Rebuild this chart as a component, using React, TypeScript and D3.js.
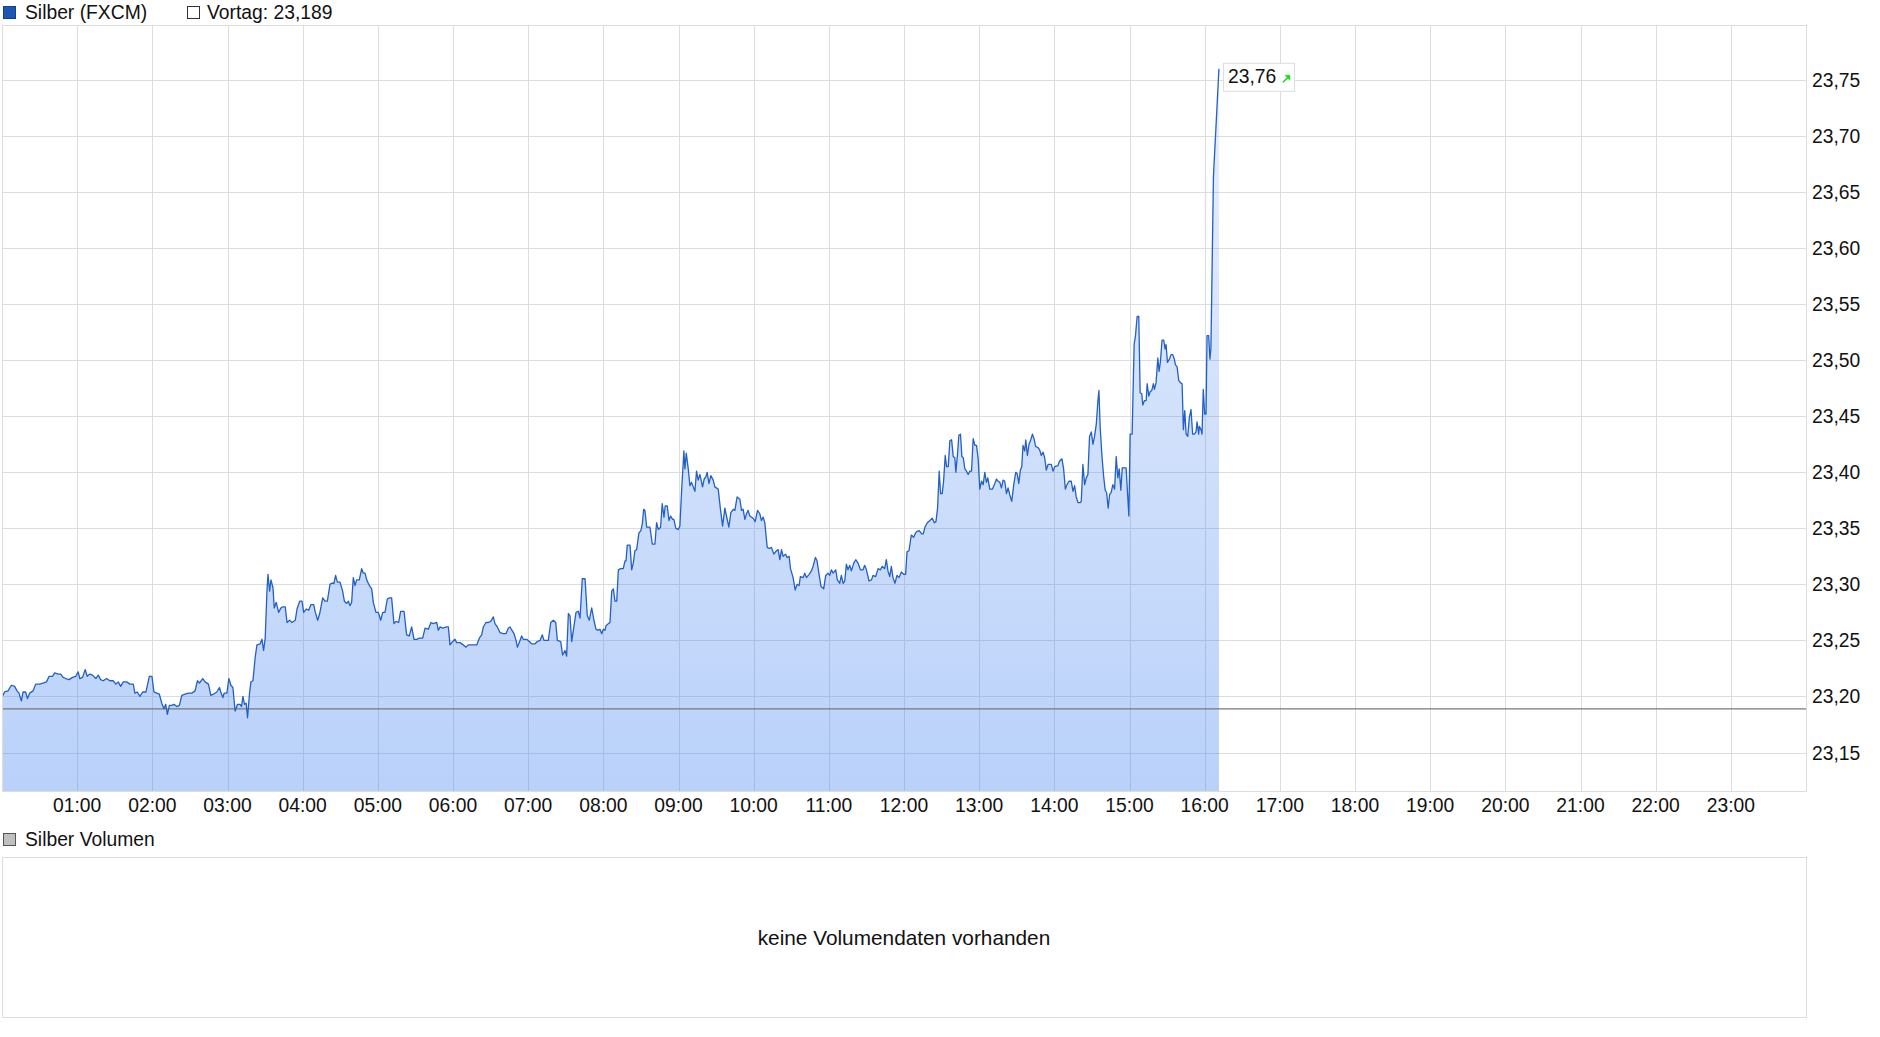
import React from "react";
import * as d3 from "d3";

// ---- data (minutes since midnight, price) ----
const minutes: number[] = [
  0.3, 2.1, 4.8, 7.5, 10.1, 12.0, 13.6, 15.5, 16.8, 18.9, 20.3, 22.1, 24.8, 26.9, 30.1, 32.8, 35.5, 37.6, 40.3, 42.1,
  44.8, 46.9, 48.8, 50.9, 53.6, 56.3, 58.9, 60.8, 62.1, 64.3, 66.4, 68.0, 70.1, 72.3, 74.9, 76.8, 78.7, 80.8, 83.5, 86.1,
  88.8, 90.9, 92.8, 94.7, 96.8, 99.5, 102.1, 104.8, 106.1, 108.0, 110.1, 112.3, 114.9, 117.6, 119.7, 121.3, 123.5, 125.6, 127.5, 129.3,
  130.7, 132.0, 133.6, 135.5, 137.3, 139.5, 141.6, 143.5, 146.1, 148.8, 151.5, 154.1, 156.0, 157.6, 160.3, 162.1, 164.8, 166.7, 168.8, 171.5,
  173.6, 174.9, 176.3, 177.3, 179.5, 181.1, 182.7, 184.3, 186.1, 188.0, 190.1, 191.2, 192.3, 193.6, 194.9, 196.0, 197.6, 198.7, 200.3, 202.1,
  203.5, 206.1, 207.5, 208.8, 210.1, 211.5, 212.3, 213.6, 214.7, 216.3, 217.3, 218.9, 220.8, 222.7, 224.3, 226.1, 227.5, 229.6, 231.5, 234.1,
  235.5, 237.6, 239.5, 240.8, 242.9, 244.8, 246.7, 248.8, 250.1, 252.0, 253.6,
  256.0, 257.8, 259.7, 261.8, 263.1, 265.0, 266.3, 267.7, 269.8, 271.9, 273.3, 275.1, 276.5, 277.8, 279.1, 280.4, 281.8, 283.1, 285.2, 287.1,
  288.4, 289.8, 291.1, 293.2, 295.1, 296.4, 298.5, 300.4, 302.3, 303.9, 305.7, 307.6, 309.2, 311.0, 312.9, 314.5, 316.6, 318.2, 320.9, 323.0,
  325.1, 327.0, 328.9, 331.0, 333.1, 335.8, 337.7, 340.3, 342.4, 344.3, 347.0, 348.3, 349.6, 351.8, 354.9, 356.3, 357.6, 359.7, 361.6, 362.9,
  365.6, 368.2, 370.4, 372.2, 374.1, 376.2, 378.9, 381.0, 382.9, 384.2, 386.3, 388.2, 390.1, 392.2, 393.5, 395.4, 397.5, 400.2, 402.3, 404.2,
  405.5, 407.1, 408.7, 410.3, 411.4, 413.5, 414.8, 416.1, 418.8, 420.9, 422.8, 425.5, 427.3, 429.5, 431.3, 432.6, 436.1, 438.0, 440.1, 442.0,
  443.3, 446.0, 447.5, 449.4, 450.7, 452.1, 453.4, 454.7, 456.6, 458.2, 460.0, 461.4, 463.2, 465.4, 467.2, 468.8, 470.7, 472.5, 474.1, 476.0,
  477.3, 478.7, 480.0, 481.3, 482.1, 484.0, 485.3, 486.7, 488.0, 489.3, 490.7, 492.0,
  493.8, 495.9, 497.3, 498.1, 499.1, 501.3, 502.6, 503.9, 505.2, 506.6, 508.4, 510.0, 511.1, 512.2, 513.2, 514.6, 517.2, 519.1, 521.2, 522.5,
  523.9, 525.7, 527.0, 528.4, 529.4, 531.0, 532.4, 533.7, 535.3, 536.3, 537.9, 539.8, 541.1, 542.5, 544.3, 545.1, 546.2, 547.8, 549.1, 550.4,
  551.8, 553.1, 554.4, 555.7, 557.1, 559.2, 560.5, 561.9, 562.9, 564.3, 565.8, 567.7, 569.0, 571.7, 573.6, 575.2, 577.0, 578.3, 580.2, 581.8,
  583.7, 585.0, 586.8, 589.0, 590.3, 591.6, 593.0, 594.3, 595.6, 596.9, 599.6, 601.2, 603.1, 604.9, 606.2, 607.6, 608.9, 610.8, 612.4, 614.2,
  616.1, 618.2, 619.5, 620.9, 622.2, 623.5, 625.4, 626.7, 628.3, 629.4, 631.5, 633.1, 634.7, 636.3, 637.3, 639.5, 640.8, 642.1, 644.3, 646.1,
  647.4, 649.3, 650.6, 652.2, 653.8, 655.9, 657.5, 659.4, 660.7, 662.1, 663.4, 665.5, 666.8, 668.7, 670.0, 671.4, 672.7, 674.0, 675.3, 676.7,
  678.0, 679.9, 681.5, 683.3, 685.2, 687.3, 688.6, 690.0, 692.1, 694.0, 695.3, 697.4, 699.3, 701.1, 702.7, 704.6, 705.9, 707.2, 708.6, 709.9,
  711.2, 712.8, 714.4, 716.0, 717.9, 719.7, 721.3, 722.4, 724.0, 725.8, 727.7, 729.3,
  730.1, 732.2, 734.1, 735.4, 736.7, 738.6, 740.7, 742.6, 744.2, 745.5, 746.8, 748.1, 749.2, 750.5, 751.6, 752.9, 754.0, 755.3, 756.6, 758.0,
  759.3, 760.6, 761.4, 762.7, 763.8, 765.1, 766.2, 767.3, 768.6, 769.9, 771.2, 772.6, 773.9, 775.2, 776.6, 777.9, 779.2, 780.5, 781.9, 783.2,
  784.5, 785.8, 786.9, 788.5, 790.6, 792.5, 793.8, 795.1, 796.5, 797.8, 799.1, 800.4, 801.8, 803.1, 804.4, 806.0, 807.6, 809.2, 810.3, 811.6,
  812.9, 814.0, 815.0, 816.4, 817.2, 818.5, 819.8, 821.2, 822.5, 823.8, 825.1, 827.0, 828.3, 829.6, 831.0, 832.3, 833.6, 835.0, 837.6, 838.9,
  840.3, 842.9, 844.2, 846.1, 847.4, 848.8, 850.1, 851.7, 853.5, 854.9, 856.2, 857.5, 858.9, 860.7, 861.5, 862.8, 864.2, 865.5, 866.8, 868.1,
  869.5, 870.8, 872.1, 873.5, 874.8, 875.6, 876.6, 878.0, 879.3, 880.6, 881.7, 883.0, 884.1, 885.4, 886.7, 888.1, 889.4, 890.7, 891.8, 893.1,
  894.2, 897.3, 898.4, 899.5, 900.5, 902.1, 903.7, 904.8, 906.1, 907.4, 908.5, 909.8, 910.6, 912.0, 913.3, 914.1, 915.4, 916.5, 917.8, 919.1,
  919.9, 921.2, 922.6, 923.6, 924.7, 926.0, 927.3, 928.4, 929.2, 930.3, 931.9, 933.2, 934.5, 935.8, 936.6, 938.0, 939.3, 940.6, 942.0, 943.0,
  944.1, 945.2, 946.5, 947.8, 949.1, 950.4, 951.8, 953.1, 953.9, 955.2, 955.8, 957.1, 957.9, 958.9, 960.0, 961.1, 961.9, 963.2, 964.2, 965.0,
  967.0, 971.4,
];

const prices: number[] = [
  23.200, 23.204, 23.205, 23.210, 23.209, 23.205, 23.203, 23.196, 23.204, 23.204, 23.198, 23.203, 23.205, 23.211, 23.211, 23.212, 23.213, 23.218, 23.218, 23.221,
  23.220, 23.220, 23.217, 23.216, 23.215, 23.217, 23.218, 23.222, 23.216, 23.217, 23.224, 23.218, 23.220, 23.219, 23.216, 23.219, 23.215, 23.214, 23.216, 23.214,
  23.214, 23.211, 23.213, 23.209, 23.213, 23.213, 23.211, 23.211, 23.203, 23.204, 23.200, 23.204, 23.204, 23.218, 23.218, 23.204, 23.203, 23.202, 23.194, 23.189,
  23.193, 23.184, 23.192, 23.192, 23.193, 23.191, 23.192, 23.201, 23.202, 23.203, 23.203, 23.205, 23.214, 23.212, 23.216, 23.213, 23.211, 23.201, 23.202, 23.204,
  23.208, 23.203, 23.199, 23.203, 23.203, 23.216, 23.210, 23.208, 23.187, 23.193, 23.193, 23.191, 23.200, 23.193, 23.194, 23.181, 23.203, 23.213, 23.214, 23.235,
  23.246, 23.247, 23.251, 23.241, 23.252, 23.294, 23.309, 23.294, 23.304, 23.297, 23.279, 23.284, 23.275, 23.279, 23.280, 23.280, 23.266, 23.268, 23.266, 23.268,
  23.278, 23.285, 23.285, 23.275, 23.278, 23.277, 23.282, 23.282, 23.275, 23.268, 23.274,
  23.288, 23.285, 23.285, 23.300, 23.301, 23.301, 23.308, 23.302, 23.302, 23.294, 23.285, 23.283, 23.285, 23.281, 23.284, 23.306, 23.299, 23.304, 23.304, 23.314,
  23.310, 23.310, 23.304, 23.299, 23.296, 23.284, 23.275, 23.275, 23.268, 23.275, 23.275, 23.287, 23.288, 23.288, 23.265, 23.267, 23.266, 23.276, 23.276, 23.255,
  23.254, 23.262, 23.251, 23.251, 23.252, 23.252, 23.261, 23.260, 23.266, 23.265, 23.266, 23.259, 23.262, 23.261, 23.262, 23.262, 23.246, 23.249, 23.251, 23.248,
  23.248, 23.246, 23.244, 23.246, 23.246, 23.246, 23.246, 23.252, 23.255, 23.262, 23.266, 23.266, 23.267, 23.271, 23.265, 23.262, 23.257, 23.256, 23.256, 23.261,
  23.262, 23.259, 23.256, 23.250, 23.244, 23.250, 23.254, 23.251, 23.251, 23.249, 23.247, 23.247, 23.249, 23.250, 23.255, 23.250, 23.250, 23.266, 23.268, 23.266,
  23.250, 23.249, 23.237, 23.241, 23.236, 23.274, 23.272, 23.249, 23.263, 23.275, 23.276, 23.270, 23.305, 23.305, 23.272, 23.268, 23.279, 23.268, 23.260, 23.259,
  23.260, 23.256, 23.260, 23.259, 23.263, 23.265, 23.266, 23.294, 23.296, 23.285, 23.285, 23.313,
  23.314, 23.314, 23.321, 23.321, 23.335, 23.335, 23.313, 23.319, 23.330, 23.331, 23.346, 23.348, 23.354, 23.367, 23.366, 23.351, 23.351, 23.336, 23.336, 23.355,
  23.349, 23.351, 23.372, 23.360, 23.370, 23.370, 23.357, 23.361, 23.358, 23.358, 23.350, 23.349, 23.352, 23.384, 23.419, 23.403, 23.417, 23.403, 23.388, 23.391,
  23.387, 23.383, 23.401, 23.393, 23.398, 23.387, 23.394, 23.396, 23.400, 23.390, 23.397, 23.393, 23.387, 23.385, 23.366, 23.352, 23.368, 23.361, 23.351, 23.364,
  23.367, 23.366, 23.378, 23.376, 23.366, 23.367, 23.358, 23.363, 23.366, 23.361, 23.359, 23.356, 23.366, 23.363, 23.357, 23.360, 23.355, 23.333, 23.332, 23.333,
  23.327, 23.330, 23.331, 23.322, 23.331, 23.325, 23.327, 23.324, 23.325, 23.314, 23.306, 23.295, 23.300, 23.299, 23.307, 23.306, 23.310, 23.306, 23.309, 23.312,
  23.316, 23.324, 23.321, 23.309, 23.298, 23.296, 23.308, 23.310, 23.308, 23.313, 23.310, 23.313, 23.304, 23.301, 23.308, 23.301, 23.303, 23.318, 23.313, 23.317,
  23.312, 23.319, 23.322, 23.319, 23.313, 23.313, 23.317, 23.313, 23.303, 23.304, 23.308, 23.307, 23.314, 23.313, 23.316, 23.314, 23.322, 23.312, 23.307, 23.316,
  23.306, 23.301, 23.308, 23.306, 23.311, 23.309, 23.309, 23.329, 23.330, 23.344, 23.342, 23.346,
  23.347, 23.348, 23.345, 23.345, 23.351, 23.355, 23.357, 23.359, 23.355, 23.356, 23.368, 23.401, 23.381, 23.381, 23.392, 23.415, 23.405, 23.405, 23.428, 23.429,
  23.414, 23.413, 23.400, 23.416, 23.433, 23.434, 23.414, 23.413, 23.403, 23.401, 23.398, 23.401, 23.401, 23.430, 23.424, 23.424, 23.412, 23.385, 23.392, 23.389,
  23.400, 23.391, 23.395, 23.385, 23.385, 23.390, 23.394, 23.392, 23.391, 23.386, 23.393, 23.392, 23.381, 23.386, 23.380, 23.374, 23.389, 23.400, 23.399, 23.390,
  23.402, 23.405, 23.424, 23.419, 23.429, 23.415, 23.425, 23.429, 23.434, 23.430, 23.423, 23.422, 23.420, 23.415, 23.418, 23.413, 23.402, 23.407, 23.407, 23.401,
  23.405, 23.406, 23.410, 23.412, 23.403, 23.385, 23.389, 23.392, 23.392, 23.383, 23.388, 23.378, 23.373, 23.373, 23.374, 23.407, 23.389, 23.395, 23.398, 23.432,
  23.436, 23.425, 23.432, 23.443, 23.464, 23.473, 23.440, 23.415, 23.397, 23.384, 23.382, 23.368, 23.380, 23.382, 23.389, 23.385, 23.414, 23.395, 23.403, 23.384,
  23.404, 23.404, 23.382, 23.361, 23.434, 23.434, 23.514, 23.522, 23.539, 23.539, 23.471, 23.470, 23.460, 23.464, 23.464, 23.479, 23.468, 23.472, 23.473, 23.479,
  23.474, 23.480, 23.502, 23.490, 23.499, 23.518, 23.518, 23.510, 23.514, 23.498, 23.501, 23.505, 23.505, 23.501, 23.496, 23.494, 23.482, 23.480, 23.479, 23.438,
  23.455, 23.434, 23.432, 23.449, 23.456, 23.434, 23.434, 23.436, 23.445, 23.434, 23.441, 23.438, 23.434, 23.474, 23.452, 23.452, 23.522, 23.522, 23.501, 23.511,
  23.664, 23.760,
];

const seriesName = "Silber (FXCM)";
const previousClose = 23.189;
const previousLabel = "Vortag: 23,189";
const lastLabel = "23,76";
const volumeTitle = "Silber Volumen";
const volumeEmpty = "keine Volumendaten vorhanden";
const yTicks: number[] = [23.15, 23.2, 23.25, 23.3, 23.35, 23.4, 23.45, 23.5, 23.55, 23.6, 23.65, 23.7, 23.75];
const hourTicks: number[] = [1, 2, 3, 4, 5, 6, 7, 8, 9, 10, 11, 12, 13, 14, 15, 16, 17, 18, 19, 20, 21, 22, 23];

// ---- layout ----
const W = 1880;
const H = 1037;
const PL = 2;
const PR = 1806;
const PT = 25;
const PB = 791;
const FONT = "'Liberation Sans', Arial, sans-serif";
const FS = 19.3;

export default function App() {
  const x = d3.scaleLinear().domain([0, 1440]).range([PL, PR]);
  const y = d3.scaleLinear().domain([23.15, 23.75]).range([752.5, 80]);

  const pts: [number, number][] = minutes.map((m, i) => [m, prices[i]]);
  const line = d3
    .line<[number, number]>()
    .x((d) => x(d[0]))
    .y((d) => y(d[1]));
  const area = d3
    .area<[number, number]>()
    .x((d) => x(d[0]))
    .y0(PB)
    .y1((d) => y(d[1]));

  const last = pts[pts.length - 1];
  const lx = x(last[0]);
  const ly = y(last[1]);
  const fmtHour = (h: number) => (h < 10 ? "0" + h : "" + h) + ":00";
  const fmtY = (v: number) => v.toFixed(2).replace(".", ",");

  return (
    <div style={{ position: "absolute", left: 0, top: 0, width: W, height: H, background: "#fff" }}>
      <svg width={W} height={H} style={{ display: "block", fontFamily: FONT }}>
        <defs>
          <linearGradient id="areaGrad" gradientUnits="userSpaceOnUse" x1={0} y1={ly} x2={0} y2={PB}>
            <stop offset="0%" stopColor="#3d7ff0" stopOpacity={0.12} />
            <stop offset="100%" stopColor="#3d7ff0" stopOpacity={0.36} />
          </linearGradient>
          <clipPath id="plotClip">
            <rect x={PL} y={PT} width={PR - PL} height={PB - PT} />
          </clipPath>
        </defs>

        {/* legend */}
        <rect x={3.5} y={6.5} width={12} height={12} fill="#1d57b5" stroke="#10408e" />
        <text x={25} y={18.5} fontSize={FS} fill="#111">{seriesName}</text>
        <rect x={187.5} y={6.5} width={12} height={12} fill="#fff" stroke="#333" />
        <text x={207} y={18.5} fontSize={FS} fill="#111">{previousLabel}</text>

        {/* grid */}
        {yTicks.map((t) => (
          <line key={"gy" + t} x1={PL} x2={PR} y1={Math.round(y(t)) + 0.5} y2={Math.round(y(t)) + 0.5} stroke="#dddddd" strokeWidth={1} />
        ))}
        {hourTicks.map((h) => (
          <line key={"gx" + h} x1={Math.round(x(h * 60)) + 0.5} x2={Math.round(x(h * 60)) + 0.5} y1={PT} y2={PB} stroke="#dddddd" strokeWidth={1} />
        ))}

        {/* area + line */}
        <g clipPath="url(#plotClip)">
          <path d={area(pts) || ""} fill="url(#areaGrad)" stroke="none" />
          <line x1={PL} x2={PR} y1={y(previousClose)} y2={y(previousClose)} stroke="#777" strokeWidth={1.2} />
          <path d={line(pts) || ""} fill="none" stroke="#2260c8" strokeWidth={1.3} strokeLinejoin="round" />
        </g>

        {/* plot frame */}
        <rect x={PL + 0.5} y={PT + 0.5} width={PR - PL} height={PB - PT} fill="none" stroke="#dddddd" />

        {/* y tick labels */}
        {yTicks.map((t) => (
          <text key={"ty" + t} x={1812} y={y(t) + 7} fontSize={FS} fill="#111">{fmtY(t)}</text>
        ))}
        {/* x tick labels */}
        {hourTicks.map((h) => (
          <text key={"tx" + h} x={x(h * 60)} y={812} fontSize={FS} fill="#111" textAnchor="middle">{fmtHour(h)}</text>
        ))}

        {/* last value tooltip */}
        <rect x={lx + 4.5} y={ly - 5.5} width={71} height={28} fill="#fff" stroke="#dddddd" />
        <text x={lx + 9} y={ly + 14} fontSize={FS} fill="#111">{lastLabel}</text>
        <g stroke="#11dd11" fill="#11dd11">
          <line x1={lx + 64} y1={ly + 13.5} x2={lx + 69.5} y2={ly + 8} strokeWidth={1.5} />
          <polygon points={`${lx + 71},${ly + 6.5} ${lx + 71},${ly + 11.5} ${lx + 66},${ly + 6.5}`} strokeWidth={0.5} />
        </g>

        {/* volume panel */}
        <rect x={3.5} y={833.5} width={12} height={12} fill="#c0c0c0" stroke="#555" />
        <text x={25} y={845.5} fontSize={FS} fill="#111">{volumeTitle}</text>
        <rect x={PL + 0.5} y={857.5} width={PR - PL} height={160} fill="#fff" stroke="#dddddd" />
        <text x={(PL + PR) / 2} y={945} fontSize={20.8} fill="#111" textAnchor="middle">{volumeEmpty}</text>
      </svg>
    </div>
  );
}
